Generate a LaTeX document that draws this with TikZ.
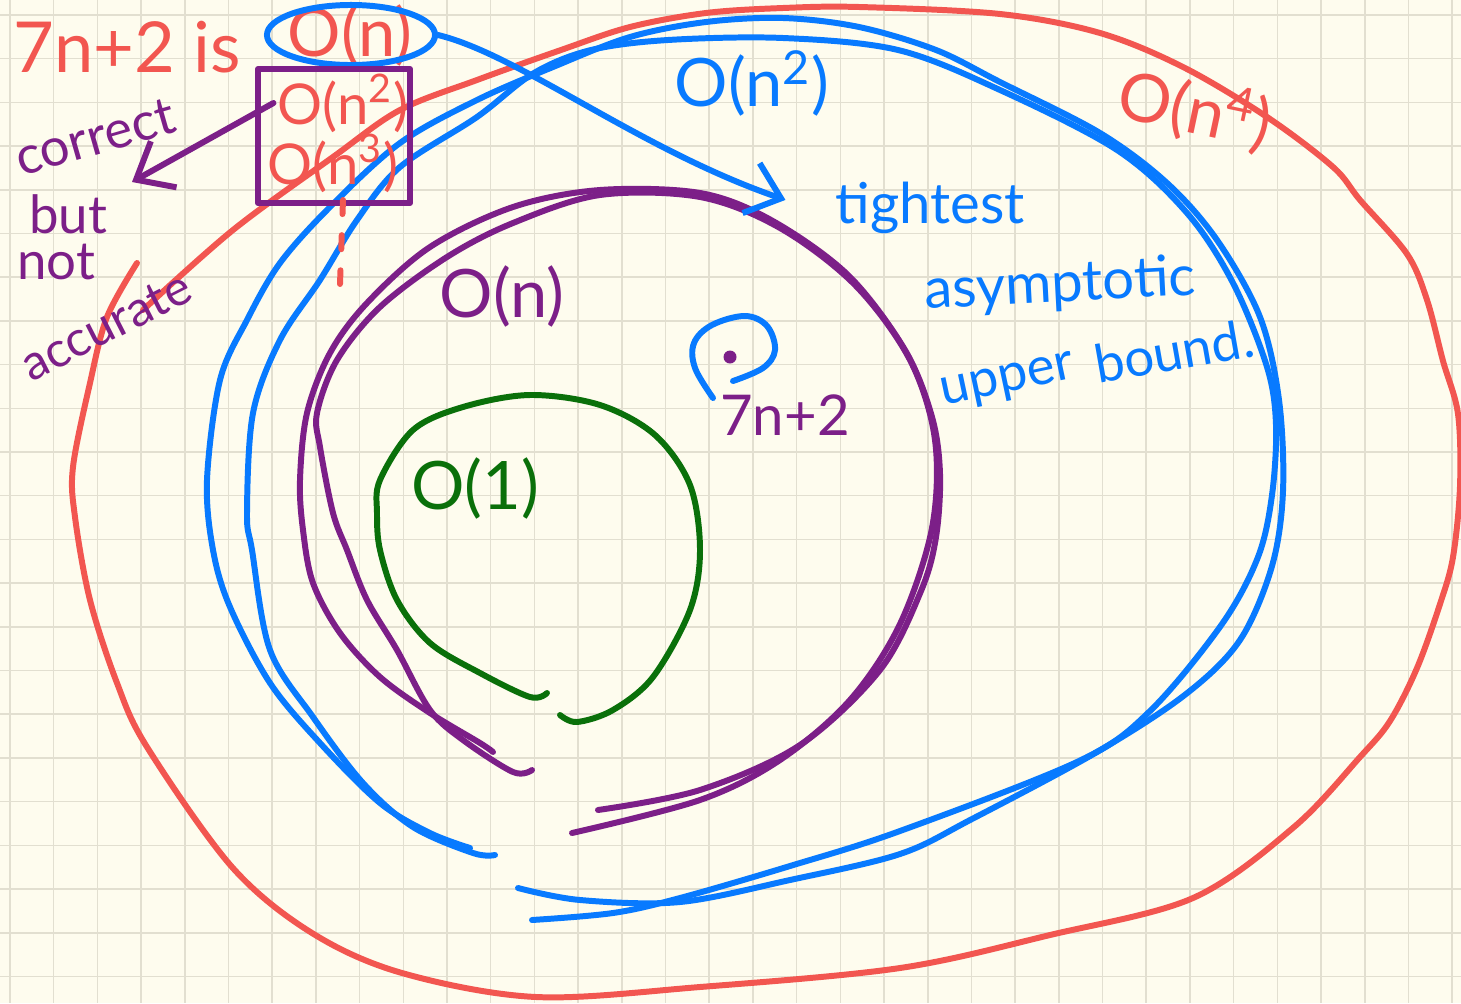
\documentclass[tikz,border=0pt]{standalone}
\usepackage{fontspec}
\setmainfont{Lato}
\usetikzlibrary{arrows.meta,shapes.geometric}

\definecolor{paper}{RGB}{254,252,238}
\definecolor{gridc}{RGB}{226,223,208}
\definecolor{redink}{RGB}{242,86,80}
\definecolor{blueink}{RGB}{8,122,255}
\definecolor{purpleink}{RGB}{124,31,136}
\definecolor{greenink}{RGB}{10,112,10}

\tikzset{
  pen/.style={line width=1.7pt, line cap=round, line join=round},
  hand/.style={inner sep=1pt, font=\fontsize{#1}{#1}\selectfont},
  hand/.default=16,
  barb/.style={-{Straight Barb[length=9pt,width=15pt]}}
}

\begin{document}
\begin{tikzpicture}[x=0.01cm, y=-0.01cm]
    \fill[paper] (0,0) rectangle (1461,1003);
    \useasboundingbox (0,0) rectangle (1461,1003);

    % squared paper
    \foreach \i in {0,...,33} {
      \draw[gridc, line width=0.45pt] ({10+43.7*\i},0) -- ({10+43.7*\i},1003);
    }
    \foreach \j in {0,...,22} {
      \draw[gridc, line width=0.45pt] (0,{15+43.7*\j}) -- (1461,{15+43.7*\j});
    }

    % O(n^4)
    \draw[pen, redink] plot[smooth, tension=0.55] coordinates {
      (143,310) (233,230) (333,157) (400,110) (477,80) (561,50) (630,27)
      (706,13) (783,8) (859,7) (1000,14) (1100,33) (1183,67) (1267,117)
      (1333,167) (1360,200) (1407,254) (1427,300) (1443,361) (1458,414)
      (1460,486) (1453,557) (1440,604) (1417,668) (1390,721) (1360,757)
      (1294,827) (1193,898) (1050,935) (900,968) (700,987) (536,997)
      (402,973) (312,933) (232,867) (147,747) (117,683) (90,600) (75,517)
      (73,467) (90,383) (107,317) (137,263)};

    % O(n^2), two strokes
    \draw[pen, blueink] plot[smooth, tension=0.55] coordinates {
      (470,848) (430,833) (380,803) (320,743) (270,683) (230,607) (213,550)
      (207,480) (220,380) (247,320) (280,263) (330,207) (400,143) (477,100)
      (553,67) (630,37) (706,22) (783,18) (859,27) (936,50) (1000,82)
      (1100,133) (1167,183) (1217,240) (1260,317) (1279,400) (1283,491)
      (1272,566) (1240,640) (1186,694) (1097,752) (972,819) (900,854)
      (790,880) (680,902) (580,900) (518,888)};
    \draw[pen, blueink] plot[smooth, tension=0.55] coordinates {
      (495,855) (473,853) (413,827) (363,783) (313,717) (270,650) (252,550)
      (247,513) (253,413) (280,340) (320,280) (357,220) (400,167) (477,117)
      (534,73) (591,50) (668,40) (783,38) (898,50) (1000,90) (1117,150)
      (1187,213) (1233,283) (1267,367) (1276,425) (1272,495) (1258,557)
      (1222,624) (1150,711) (1079,761) (900,831) (790,866) (680,898)
      (613,913) (532,920)};

    % O(n), two strokes
    \draw[pen, purpleink] plot[smooth, tension=0.55] coordinates {
      (493,752) (480,743) (430,713) (380,677) (340,633) (313,583) (303,530)
      (300,480) (307,413) (330,353) (367,303) (430,247) (513,207) (600,190)
      (700,193) (771,220) (848,275) (905,350) (932,417) (940,474) (936,537)
      (921,591) (880,670) (800,745) (700,790) (598,810)};
    \draw[pen, purpleink] plot[smooth, tension=0.55] coordinates {
      (532,770) (513,772) (463,740) (430,710) (397,650) (367,600) (347,550)
      (333,513) (320,447) (317,413) (337,360) (380,307) (447,257) (513,223)
      (600,195) (700,197) (780,228) (855,285) (910,360) (935,440) (932,528)
      (900,624) (850,700) (780,760) (700,800) (572,833)};

    % O(1)
    \draw[pen, greenink] plot[smooth, tension=0.55] coordinates {
      (547,693) (530,697) (480,673) (430,643) (397,600) (380,550) (377,513)
      (380,480) (413,430) (463,407) (530,395) (600,405) (655,435) (690,485)
      (700,550) (690,610) (653,677) (613,710) (577,722) (560,715)};

    % statement at the top
    \node[hand=20, redink] (claim) at (127,47) {7n+2 is};
    \node[hand=19, redink] (On) at (350,35) {O(n)};
    \node[draw=blueink, pen, ellipse, minimum width=1.68cm, minimum height=0.6cm] (Oring) at (351,35) {};

    \node[draw=purpleink, pen, minimum width=1.52cm, minimum height=1.34cm] (sqbox) at (334,136) {};
    \node[hand=16, redink] (n2) at (343,103) {O(n\textsuperscript{2})};
    \node[hand=16, redink] (n3) at (333,163) {O(n\textsuperscript{3})};
    \draw[pen, redink, dash pattern=on 4pt off 6pt] (343,200) -- (340,284);

    \node[hand=15, purpleink, rotate=16] (corr) at (95,137) {correct};
    \node[hand=15, purpleink] (but) at (68,214) {but};
    \node[hand=15, purpleink] (not) at (56,262) {not};
    \node[hand=14, purpleink, rotate=27] (accu) at (106,326) {accurate};
    \coordinate (cTip) at (132,182);
    \draw[pen, purpleink, barb] (n2.west) -- (cTip);

    % set labels
    \node[hand=19, blueink] (On2) at (752,83) {O(n\textsuperscript{2})};
    \node[hand=19, redink, rotate=-12] (On4) at (1195,110) {O(n\textsuperscript{4})};
    \node[hand=19, purpleink] (Onp) at (502,296) {O(n)};
    \node[hand=19, greenink] (O1) at (475,488) {O(1)};

    \node[hand=16, blueink] (tight) at (930,208) {tightest};
    \node[hand=16, blueink, rotate=3] (asym) at (1060,286) {asymptotic};
    \node[hand=15, blueink, rotate=12] (upper) at (1008,383) {upper};
    \node[hand=15, blueink, rotate=10] (bound) at (1174,351) {bound.};
    \coordinate (aTip) at ([xshift=-13pt, yshift=2.3pt]tight.west);
    \draw[pen, blueink, barb] (Oring.east) .. controls (520,55) and (640,150) .. (aTip);

    % 7n+2 as a point
    \coordinate (pt) at (730,357);
    \fill[purpleink] (pt) circle (0.065cm);
    \draw[pen, blueink] plot[smooth, tension=0.6] coordinates {
      (713,398) (695,368) (694,343) (712,325) (745,316) (767,326) (775,350)
      (763,368) (733,381)};
    \node[hand=16, purpleink] (fn) at (785,415) {7n+2};
\end{tikzpicture}
\end{document}
